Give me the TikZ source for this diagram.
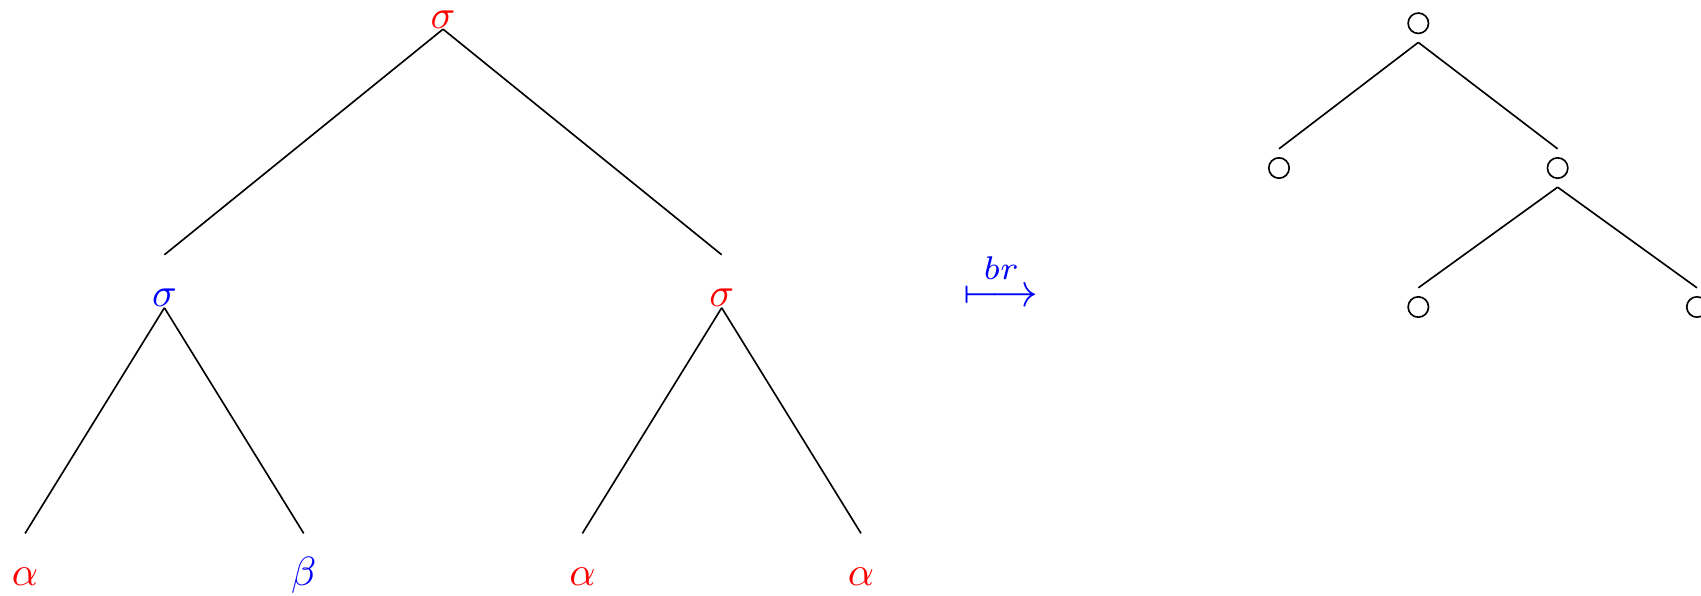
\documentclass[tikz,border=0pt]{standalone}
\usepackage{amsmath}
\usepackage{tikz}
\definecolor{brRed}{HTML}{FF0000}
\definecolor{brBlue}{HTML}{0000FF}

\begin{document}
\begin{tikzpicture}[
  lbl/.style={inner sep=0pt, anchor=base, text height=12.6pt, text depth=0pt},
  leaf/.style={circle, draw, inner sep=0pt, minimum size=5pt, outer sep=2.2pt}]
  \useasboundingbox (0,0) rectangle (14.651,-5.125);

  % Labelled tree
  \node[lbl, text=brRed] (r) at (3.816,-0.244) {$\sigma$};
  \node[lbl, text=brBlue] (s1) at (1.416,-2.644) {$\sigma$};
  \node[lbl, text=brRed] (s2) at (6.216,-2.644) {$\sigma$};
  \node[lbl, text=brRed] (a1) at (0.216,-5.044) {$\alpha$};
  \node[lbl, text=brBlue] (b1) at (2.616,-5.044) {$\beta$};
  \node[lbl, text=brRed] (a2) at (5.016,-5.044) {$\alpha$};
  \node[lbl, text=brRed] (a3) at (7.416,-5.044) {$\alpha$};
  \draw (r.south) -- (s1.north);
  \draw (r.south) -- (s2.north);
  \draw (s1.south) -- (a1.north);
  \draw (s1.south) -- (b1.north);
  \draw (s2.south) -- (a2.north);
  \draw (s2.south) -- (a3.north);

  % Map
  \node[text=brBlue, anchor=base, inner sep=0pt, scale=1.15, transform shape] (br) at (8.622,-2.64) {$\overset{br}{\longmapsto}$};

  % Shape of the tree
  \node[leaf] (c0) at (12.216,-0.2) {};
  \node[leaf] (c1) at (11.016,-1.447) {};
  \node[leaf] (c2) at (13.416,-1.447) {};
  \node[leaf] (c3) at (12.216,-2.644) {};
  \node[leaf] (c4) at (14.616,-2.644) {};
  \draw (c0.south) -- (c1.north);
  \draw (c0.south) -- (c2.north);
  \draw (c2.south) -- (c3.north);
  \draw (c2.south) -- (c4.north);
\end{tikzpicture}
\end{document}
